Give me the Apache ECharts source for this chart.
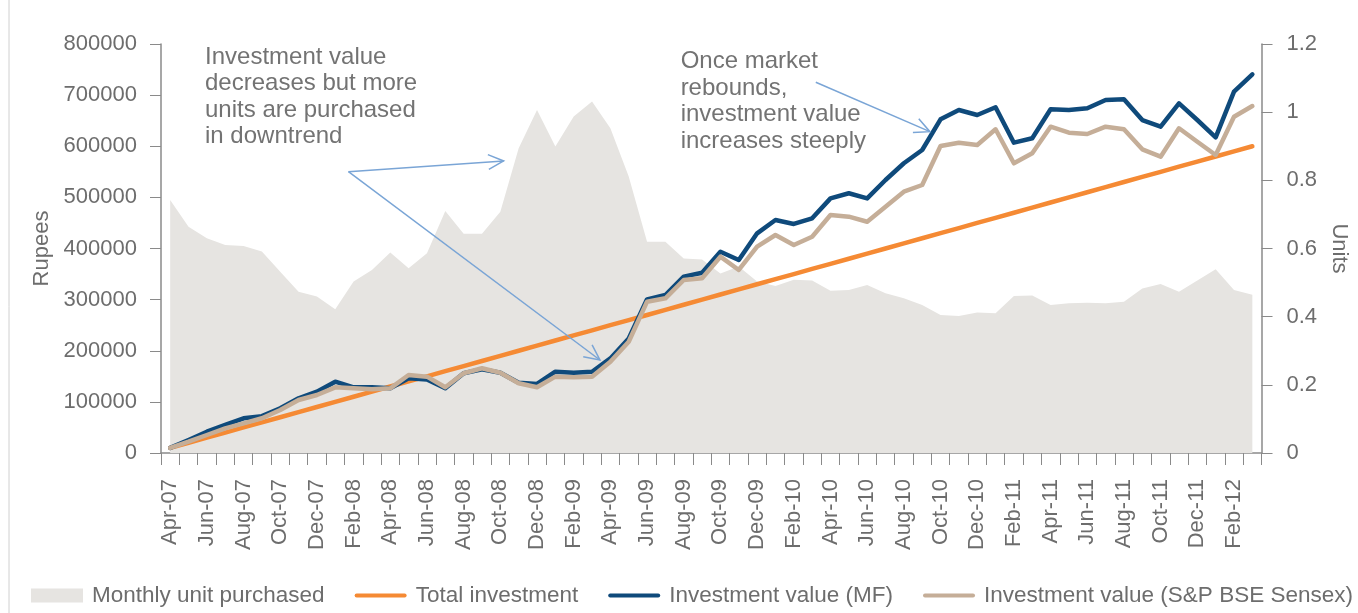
<!DOCTYPE html>
<html lang="en">
<head>
<meta charset="utf-8" />
<title>SIP: units purchased and investment value</title>
<script src="https://cdn.jsdelivr.net/npm/echarts@6.0.0/dist/echarts.min.js"></script>
<style>
	html,body{margin:0;padding:0;background:#fff;}
	#chart{width:1358px;height:613px;}
</style>
</head>
<body>
<div id="chart"></div>
<script>
var months = ['Apr-07','May-07','Jun-07','Jul-07','Aug-07','Sep-07','Oct-07','Nov-07','Dec-07','Jan-08',
	'Feb-08','Mar-08','Apr-08','May-08','Jun-08','Jul-08','Aug-08','Sep-08','Oct-08','Nov-08',
	'Dec-08','Jan-09','Feb-09','Mar-09','Apr-09','May-09','Jun-09','Jul-09','Aug-09','Sep-09',
	'Oct-09','Nov-09','Dec-09','Jan-10','Feb-10','Mar-10','Apr-10','May-10','Jun-10','Jul-10',
	'Aug-10','Sep-10','Oct-10','Nov-10','Dec-10','Jan-11','Feb-11','Mar-11','Apr-11','May-11',
	'Jun-11','Jul-11','Aug-11','Sep-11','Oct-11','Nov-11','Dec-11','Jan-12','Feb-12','Mar-12'];

// monthly units bought (right axis)
var unitsBought = [0.742,0.664,0.630,0.610,0.607,0.591,0.532,0.473,0.459,0.422,
	0.503,0.537,0.588,0.542,0.586,0.710,0.643,0.643,0.708,0.894,
	1.006,0.899,0.987,1.031,0.953,0.811,0.620,0.620,0.571,0.568,
	0.527,0.547,0.503,0.490,0.508,0.506,0.476,0.478,0.493,0.469,
	0.454,0.434,0.405,0.402,0.412,0.410,0.461,0.462,0.434,0.439,
	0.441,0.439,0.444,0.483,0.496,0.473,0.506,0.539,0.478,0.464];

// rupees (left axis)
var totalInvestment = [10000,20000,30000,40000,50000,60000,70000,80000,90000,100000,
	110000,120000,130000,140000,150000,160000,170000,180000,190000,200000,
	210000,220000,230000,240000,250000,260000,270000,280000,290000,300000,
	310000,320000,330000,340000,350000,360000,370000,380000,390000,400000,
	410000,420000,430000,440000,450000,460000,470000,480000,490000,500000,
	510000,520000,530000,540000,550000,560000,570000,580000,590000,600000];

var valueMF = [10000,25400,41700,54800,67800,72000,87400,107000,120000,139500,
	128500,128500,126500,146000,144000,126500,156000,163700,157000,137500,
	135000,159000,157000,159000,185000,224000,300600,309000,345000,352700,
	393700,377500,429700,455700,448000,459000,498000,508000,498000,534000,
	566700,592700,652700,670900,661100,676200,607000,615600,672300,670900,
	674200,690500,691800,651300,638300,684000,651300,617500,706700,740700];

var valueSensex = [10000,22100,35200,48300,58100,67900,84100,103700,113400,128500,
	126500,124600,126500,152600,149300,128500,156000,165700,157000,136300,
	128500,149300,148000,149300,178600,217700,296000,302600,338400,341700,
	384000,358000,403500,426400,406800,423100,465500,462200,452400,481800,
	511100,524200,600500,607000,602500,633200,566700,586200,638300,626500,
	624000,638300,633200,594000,579600,635100,608900,582900,657800,678700];

// call-outs, anchored as [month index, rupees]
var noteDownText = ['Investment value', 'decreases but more', 'units are purchased', 'in downtrend'];
var noteDownAt = [1.9, 800500];
var noteDownFrom = [9.72, 550200];
var noteDownTips = [[18.18, 571200], [23.43, 181900]];

var noteUpText = ['Once market', 'rebounds,', 'investment value', 'increases steeply'];
var noteUpAt = [27.83, 791700];
var noteUpFrom = [35.2, 725100];
var noteUpTip = [41.42, 628500];

var FONT = 'Liberation Sans, Arial, sans-serif';
var TXT = '#6d6d6d';
var AXIS = '#8a8a8a';
// thin bar with round ends for the line items of the legend
var LINE_ICON = 'path://M2,0 L50,0 A2,2 0 0 1 50,4 L2,4 A2,2 0 0 1 2,0 Z';

var chart = echarts.init(document.getElementById('chart'));

chart.setOption({
	animation: false,
	textStyle: { fontFamily: FONT },
	grid: { left: 161, right: 96, top: 44, bottom: 160 },
	legend: {
		left: 31, top: 584, padding: 0,
		itemWidth: 52, itemHeight: 14, itemGap: 30,
		textStyle: { fontSize: 22.5, color: TXT, fontFamily: FONT, padding: [0, 0, 0, 4] },
		data: [
			{ name: 'Monthly unit purchased', icon: 'rect' },
			{ name: 'Total investment', icon: LINE_ICON },
			{ name: 'Investment value (MF)', icon: LINE_ICON },
			{ name: 'Investment value (S&P BSE Sensex)', icon: LINE_ICON }
		]
	},
	xAxis: {
		type: 'category',
		data: months,
		axisLine: { lineStyle: { color: AXIS, width: 1.5 } },
		axisTick: { show: true, interval: 0, length: 12, lineStyle: { color: AXIS } },
		axisLabel: { interval: 1, rotate: 90, margin: 26, fontSize: 22, color: TXT, fontFamily: FONT }
	},
	yAxis: [{
		type: 'value',
		min: 0, max: 800000, interval: 100000,
		name: 'Rupees', nameLocation: 'middle', nameGap: 106, nameRotate: 90,
		nameTextStyle: { fontSize: 22, color: TXT, fontFamily: FONT },
		axisLine: { show: true, lineStyle: { color: AXIS, width: 1.5 } },
		axisTick: { show: true, length: 11, lineStyle: { color: AXIS } },
		axisLabel: { margin: 24, fontSize: 22, color: TXT, fontFamily: FONT,
			formatter: function (v) { return String(v); } },
		splitLine: { show: false }
	}, {
		type: 'value',
		min: 0, max: 1.2, interval: 0.2,
		name: 'Units', nameLocation: 'middle', nameGap: 66, nameRotate: -90,
		nameTextStyle: { fontSize: 22, color: TXT, fontFamily: FONT },
		axisLine: { show: true, lineStyle: { color: AXIS, width: 1.5 } },
		axisTick: { show: true, length: 11, lineStyle: { color: AXIS } },
		axisLabel: { margin: 25, fontSize: 22, color: TXT, fontFamily: FONT,
			formatter: function (v) { return String(+v.toFixed(1)); } },
		splitLine: { show: false }
	}],
	series: [{
		name: 'Monthly unit purchased',
		type: 'line',
		yAxisIndex: 1,
		data: unitsBought,
		symbol: 'none',
		lineStyle: { width: 0 },
		itemStyle: { color: '#e6e4e1' },
		areaStyle: { color: '#e6e4e1', opacity: 1 }
	}, {
		name: 'Total investment',
		type: 'line',
		data: totalInvestment,
		symbol: 'none',
		itemStyle: { color: '#f58a34' },
		lineStyle: { color: '#f58a34', width: 4.5, cap: 'round' }
	}, {
		name: 'Investment value (MF)',
		type: 'line',
		data: valueMF,
		symbol: 'none',
		itemStyle: { color: '#0f4a7b' },
		lineStyle: { color: '#0f4a7b', width: 4.5, cap: 'round', join: 'round' }
	}, {
		name: 'Investment value (S&P BSE Sensex)',
		type: 'line',
		data: valueSensex,
		symbol: 'none',
		itemStyle: { color: '#c5ae98' },
		lineStyle: { color: '#c5ae98', width: 4.5, cap: 'round', join: 'round' }
	}]
});

// fractional month index -> pixel
function toPx(p) {
	var i0 = Math.floor(p[0]);
	var a = chart.convertToPixel({ xAxisIndex: 0, yAxisIndex: 0 }, [i0, p[1]]);
	var b = chart.convertToPixel({ xAxisIndex: 0, yAxisIndex: 0 }, [i0 + 1, p[1]]);
	return [a[0] + (p[0] - i0) * (b[0] - a[0]), a[1]];
}

var ARROW = '#7aa5d6';

function arrow(from, to) {
	var s = toPx(from), t = toPx(to);
	var ang = Math.atan2(t[1] - s[1], t[0] - s[0]);
	var len = 17, spread = 0.45;
	var h1 = [t[0] - len * Math.cos(ang - spread), t[1] - len * Math.sin(ang - spread)];
	var h2 = [t[0] - len * Math.cos(ang + spread), t[1] - len * Math.sin(ang + spread)];
	return [{
		type: 'line', z: 100,
		shape: { x1: s[0], y1: s[1], x2: t[0], y2: t[1] },
		style: { stroke: ARROW, lineWidth: 1.5 }
	}, {
		type: 'polyline', z: 100,
		shape: { points: [h1, t, h2] },
		style: { stroke: ARROW, lineWidth: 1.5, fill: null }
	}];
}

function note(at, lines) {
	var p = toPx(at);
	return {
		type: 'text', z: 100,
		x: p[0], y: p[1],
		style: {
			text: lines.join('\n'),
			fontSize: 24, lineHeight: 26.5,
			fontFamily: FONT, fill: '#737373',
			align: 'left', verticalAlign: 'top'
		}
	};
}

var g = [];
g = g.concat(arrow(noteDownFrom, noteDownTips[0]));
g = g.concat(arrow(noteDownFrom, noteDownTips[1]));
g = g.concat(arrow(noteUpFrom, noteUpTip));
g.push(note(noteDownAt, noteDownText));
g.push(note(noteUpAt, noteUpText));
// faint frame edge on the left of the original figure
g.push({
	type: 'line', z: 100,
	shape: { x1: 9, y1: 0, x2: 9, y2: 613 },
	style: { stroke: '#d0d0d0', lineWidth: 1 }
});

chart.setOption({ graphic: g });
</script>
</body>
</html>
